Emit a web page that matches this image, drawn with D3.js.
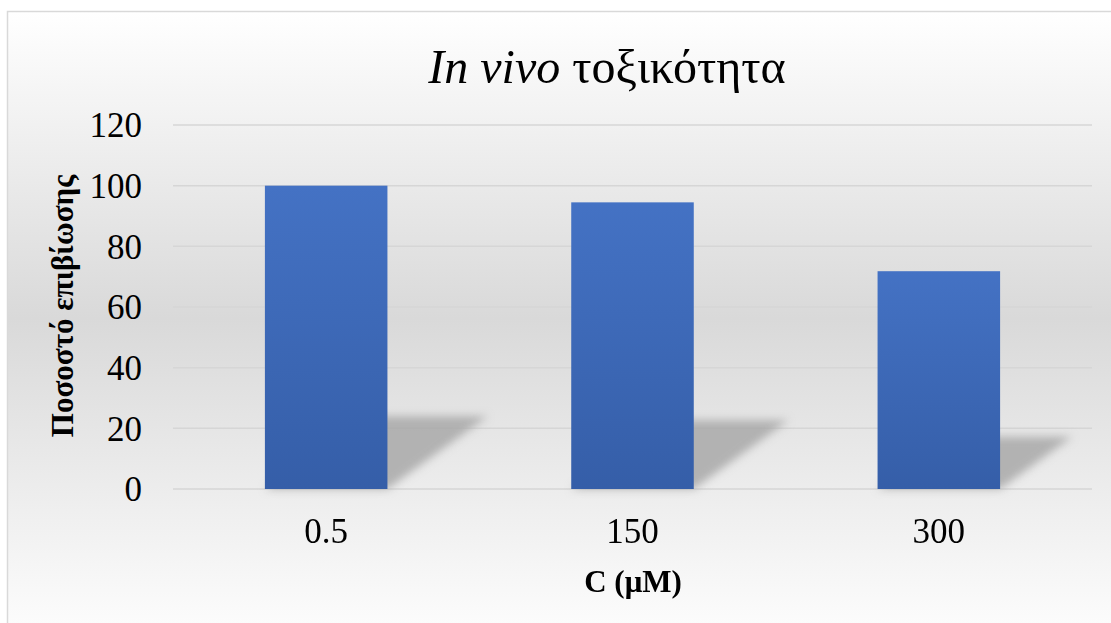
<!DOCTYPE html>
<html><head><meta charset="utf-8">
<script src="https://cdn.jsdelivr.net/npm/d3@7"></script>
<style>body{margin:0;background:#fff}svg{display:block}</style>
</head><body>
<script>
const categories = ["0.5", "150", "300"];
const values = [100, 94.5, 71.8];
const yTicks = [0, 20, 40, 60, 80, 100, 120];
const titleParts = [{t: "In vivo", italic: true}, {t: " τοξικότητα", italic: false}];
const xTitle = "C (μM)";
const yTitle = "Ποσοστό επιβίωσης";

const W = 1111, H = 623;
const svg = d3.select("body").append("svg").attr("width", W).attr("height", H);
const defs = svg.append("defs");

const bg = defs.append("linearGradient").attr("id", "bg").attr("x1", 0).attr("y1", 0).attr("x2", 0).attr("y2", 1);
bg.append("stop").attr("offset", "0%").attr("stop-color", "#ffffff");
bg.append("stop").attr("offset", "48%").attr("stop-color", "#d9d9d9");
bg.append("stop").attr("offset", "100%").attr("stop-color", "#ffffff");

const bar = defs.append("linearGradient").attr("id", "bar").attr("x1", 0).attr("y1", 0).attr("x2", 0).attr("y2", 1);
bar.append("stop").attr("offset", "0%").attr("stop-color", "#4472c4");
bar.append("stop").attr("offset", "100%").attr("stop-color", "#355ea8");

const blur = defs.append("filter").attr("id", "blur").attr("x", "-20%").attr("y", "-20%").attr("width", "140%").attr("height", "140%");
blur.append("feGaussianBlur").attr("stdDeviation", 4);

svg.append("rect").attr("x", 7.5).attr("y", 11.5).attr("width", 1120).attr("height", 640)
  .attr("fill", "url(#bg)").attr("stroke", "#d9d9d9").attr("stroke-width", 1.5);

const m = {left: 173, right: 1092, top: 125, bottom: 489};
const x = d3.scaleBand().domain(categories).range([m.left, m.right]).paddingInner(0.6).paddingOuter(0.3);
const y = d3.scaleLinear().domain([0, 120]).range([m.bottom, m.top]);

// gridlines
svg.append("g").selectAll("line").data(yTicks).join("line")
  .attr("x1", m.left).attr("x2", m.right)
  .attr("y1", d => y(d)).attr("y2", d => y(d))
  .attr("stroke", "#d6d6d6").attr("stroke-width", 1.5);

// shadows
const data = categories.map((c, i) => ({c, v: values[i]}));
svg.append("g").attr("filter", "url(#blur)").selectAll("path").data(data).join("path")
  .attr("d", d => {
    const x0 = x(d.c), x1 = x0 + x.bandwidth();
    const h = y(0) - y(d.v);
    const dy = h * 0.24, dx = h * 0.33;
    return `M${x0},${y(0)} L${x1},${y(0)} L${x1 + dx},${y(0) - dy} L${x0 + dx},${y(0) - dy} Z`;
  })
  .attr("fill", "#a8a8a8").attr("opacity", 0.85);

// bars
svg.append("g").selectAll("rect").data(data).join("rect")
  .attr("x", d => x(d.c)).attr("width", x.bandwidth())
  .attr("y", d => y(d.v)).attr("height", d => y(0) - y(d.v))
  .attr("fill", "url(#bar)");

const font = "Liberation Serif, Times New Roman, serif";
// y ticks
const yAxis = svg.append("g").attr("transform", `translate(${m.left - 31},0)`)
  .call(d3.axisLeft(y).tickValues(yTicks).tickSize(0).tickPadding(0));
yAxis.select(".domain").remove();
yAxis.selectAll("text").attr("font-family", font).attr("font-size", 35).attr("fill", "#000").attr("dy", "0.34em");

// x ticks
const xAxis = svg.append("g").attr("transform", `translate(0,${m.bottom})`)
  .call(d3.axisBottom(x).tickSize(0).tickPadding(0));
xAxis.select(".domain").remove();
xAxis.selectAll("text").attr("font-family", font).attr("font-size", 35).attr("fill", "#000").attr("dy", null).attr("y", 54);

// title
const tt = svg.append("text").attr("x", 607).attr("y", 83).attr("text-anchor", "middle")
  .style("font-family", font).attr("font-size", 48).attr("fill", "#000");
tt.selectAll("tspan").data(titleParts).join("tspan").text(d => d.t)
  .style("font-family", font).attr("font-style", d => d.italic ? "italic" : "normal");

svg.append("text").attr("x", 633).attr("y", 592).attr("text-anchor", "middle")
  .style("font-family", font).attr("font-size", 31).attr("font-weight", "bold").text(xTitle);

svg.append("text").attr("transform", `translate(73,306) rotate(-90)`).attr("text-anchor", "middle")
  .style("font-family", font).attr("font-size", 31).attr("font-weight", "bold").text(yTitle);
</script>
</body></html>
